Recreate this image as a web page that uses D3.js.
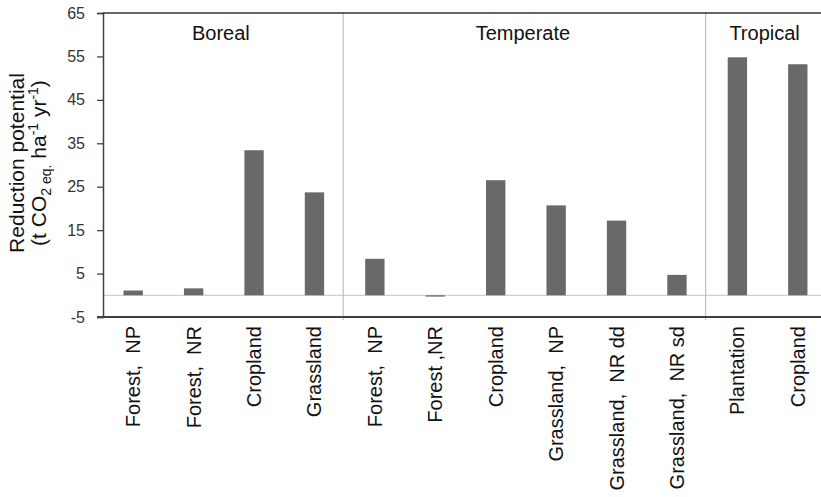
<!DOCTYPE html>
<html>
<head>
<meta charset="utf-8">
<script src="https://d3js.org/d3.v7.min.js"></script>
<style>
  body { margin: 0; background: #fff; }
  svg { display: block; font-family: "Liberation Sans", Arial, sans-serif; }
</style>
</head>
<body>
<svg width="821" height="497"></svg>
<script>
    // data
    var categories = ['Forest,  NP', 'Forest,  NR', 'Cropland', 'Grassland',
        'Forest,  NP', 'Forest ,NR', 'Cropland', 'Grassland,  NP', 'Grassland,  NR dd', 'Grassland,  NR sd',
        'Plantation', 'Cropland'];
    var values = [1.1, 1.6, 33.4, 23.7, 8.4, -0.3, 26.5, 20.7, 17.2, 4.7, 54.8, 53.2];
    var groups = ['Boreal', 'Temperate', 'Tropical'];
    var groupSizes = [4, 6, 2];
    var yTicks = [-5, 5, 15, 25, 35, 45, 55, 65];

    var width = 821, height = 497;
    var margin = { top: 13, right: -7, bottom: 180, left: 103 };

    var svg = d3.select('svg');

    var idx = d3.range(categories.length);
    var x = d3.scaleBand()
        .domain(idx)
        .range([margin.left, width - margin.right])
        .padding(0);

    var y = d3.scaleLinear()
        .domain([-5, 65])
        .range([height - margin.bottom, margin.top]);

    var barW = x.bandwidth() * 0.32;

    // zero line
    svg.append('line')
        .attr('x1', margin.left).attr('x2', width)
        .attr('y1', y(0)).attr('y2', y(0))
        .attr('stroke', '#c4c4c4').attr('stroke-width', 1);

    // group separators
    var starts = [0];
    groupSizes.forEach(function(n, i) { starts.push(starts[i] + n); });
    starts.slice(1, -1).forEach(function(s) {
        svg.append('line')
            .attr('x1', x(s) - 1.5).attr('x2', x(s) - 1.5)
            .attr('y1', margin.top).attr('y2', y(-5) + 3)
            .attr('stroke', '#b4b4b4').attr('stroke-width', 1);
    });

    // bars
    svg.append('g')
        .selectAll('rect')
        .data(values)
        .join('rect')
        .attr('x', function(d, i) { return x(i) + (x.bandwidth() - barW) / 2; })
        .attr('width', barW)
        .attr('y', function(d) { return y(Math.max(0, d)); })
        .attr('height', function(d) { return Math.abs(y(d) - y(0)); })
        .attr('fill', '#696969');

    // y axis
    var yAxis = svg.append('g')
        .attr('transform', 'translate(' + margin.left + ',0)')
        .call(d3.axisLeft(y).tickValues(yTicks).tickSize(6).tickPadding(12)
            .tickFormat(function(d) { return String(d); }));
    yAxis.select('.domain').attr('stroke', '#404040').attr('stroke-width', 1.5);
    yAxis.selectAll('.tick line').attr('stroke', '#404040').attr('stroke-width', 1.3);
    yAxis.selectAll('text')
        .attr('fill', '#333')
        .style('font-size', '16px')
        .style('font-family', '"Liberation Sans", Arial, sans-serif');

    // top and bottom frame lines
    svg.append('line')
        .attr('x1', margin.left).attr('x2', width)
        .attr('y1', y(65)).attr('y2', y(65))
        .attr('stroke', '#333').attr('stroke-width', 1.5);
    svg.append('line')
        .attr('x1', margin.left - 6).attr('x2', width)
        .attr('y1', y(-5)).attr('y2', y(-5))
        .attr('stroke', '#404040').attr('stroke-width', 2);

    // category labels
    svg.append('g')
        .selectAll('text')
        .data(categories)
        .join('text')
        .attr('transform', function(d, i) {
            return 'translate(' + (x(i) + x.bandwidth() / 2 + 7) + ',' + (y(-5) + 9) + ') rotate(-90)';
        })
        .attr('text-anchor', 'end')
        .attr('font-size', 20)
        .attr('fill', '#111')
        .style('white-space', 'pre')
        .text(function(d) { return d; });

    // group labels
    groups.forEach(function(g, i) {
        var x0 = x(starts[i]), x1 = x(starts[i + 1] - 1) + x.bandwidth();
        svg.append('text')
            .attr('x', (x0 + x1) / 2 - 3)
            .attr('y', 40)
            .attr('text-anchor', 'middle')
            .attr('font-size', 20)
            .attr('fill', '#111')
            .text(g);
    });

    // y title
    var yt = svg.append('g')
        .attr('transform', 'translate(0,163) rotate(-90)')
        .attr('fill', '#111')
        .attr('text-anchor', 'middle')
        .style('white-space', 'pre');
    yt.append('text')
        .attr('x', 0).attr('y', 24)
        .attr('font-size', 21)
        .text('Reduction  potential');
    var t2 = yt.append('text')
        .attr('x', 0).attr('y', 46)
        .attr('font-size', 21);
    t2.append('tspan').text('(t CO');
    t2.append('tspan').attr('font-size', 14).attr('dy', 5).text('2 eq.');
    t2.append('tspan').attr('dy', -5).text(' ha');
    t2.append('tspan').attr('font-size', 14).attr('dy', -8).text('-1');
    t2.append('tspan').attr('dy', 8).text(' yr');
    t2.append('tspan').attr('font-size', 14).attr('dy', -8).text('-1');
    t2.append('tspan').attr('dy', 8).text(')');
</script>
</body>
</html>
